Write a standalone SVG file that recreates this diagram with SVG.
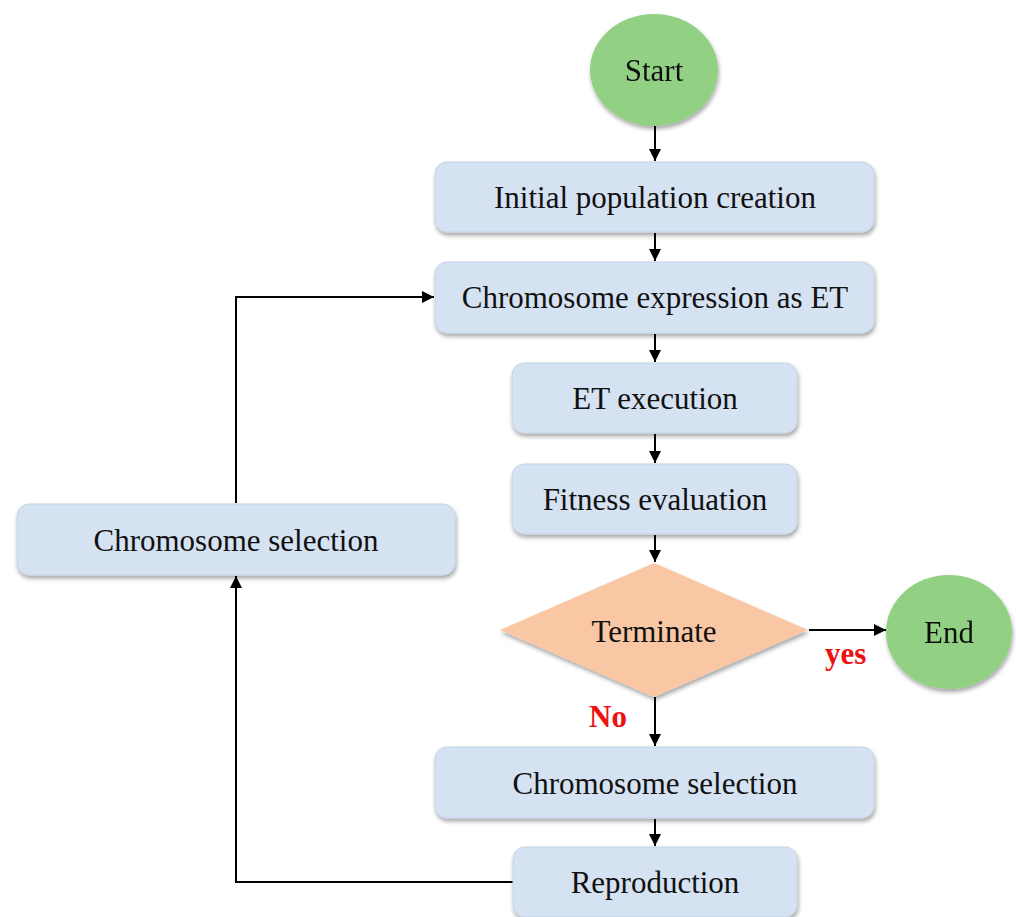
<svg xmlns="http://www.w3.org/2000/svg" width="1016" height="917" viewBox="0 0 1016 917">
<defs>
<style>
.box{fill:#d5e2f2;stroke:#c4d3e6;stroke-width:1}
.oval{fill:#92d083}
.dia{fill:#f9c7a3}
.t{font-family:"Liberation Serif","Times New Roman",serif;font-size:31px;fill:#111;text-anchor:middle;dominant-baseline:central}
.lab{font-family:"Liberation Serif","Times New Roman",serif;font-size:31px;font-weight:bold;fill:#ee1111}
.c{fill:none;stroke:#000;stroke-width:2}
</style>
<filter id="sh" x="-10%" y="-10%" width="120%" height="140%">
<feDropShadow dx="1" dy="3" stdDeviation="2" flood-color="#000" flood-opacity="0.35"/>
</filter>
<marker id="ah" viewBox="0 0 10 10" refX="10" refY="5" markerWidth="6" markerHeight="6" orient="auto" markerUnits="strokeWidth">
<path d="M0,0 L10,5 L0,10 z" fill="#000"/>
</marker>
</defs>
<rect width="1016" height="917" fill="#fff"/>
<g id="connectors">
<line class="c" x1="655" y1="126" x2="655" y2="161" marker-end="url(#ah)"/>
<line class="c" x1="655" y1="233" x2="655" y2="261" marker-end="url(#ah)"/>
<line class="c" x1="655" y1="334" x2="655" y2="362" marker-end="url(#ah)"/>
<line class="c" x1="655" y1="434" x2="655" y2="463" marker-end="url(#ah)"/>
<line class="c" x1="655" y1="535" x2="655" y2="562" marker-end="url(#ah)"/>
<line class="c" x1="809" y1="630" x2="886" y2="630" marker-end="url(#ah)"/>
<line class="c" x1="655" y1="697" x2="655" y2="746" marker-end="url(#ah)"/>
<line class="c" x1="655" y1="819" x2="655" y2="846" marker-end="url(#ah)"/>
<polyline class="c" points="513,882 236,882 236,576" marker-end="url(#ah)"/>
<polyline class="c" points="236,503 236,297 434,297" marker-end="url(#ah)"/>
</g>
<g id="start" filter="url(#sh)">
<ellipse class="oval" cx="654" cy="70" rx="64" ry="56"/>
<text class="t" x="654" y="70">Start</text>
</g>
<g id="init">
<rect class="box" filter="url(#sh)" x="435" y="162" width="439" height="70" rx="12"/>
<text class="t" x="655" y="197">Initial population creation</text>
</g>
<g id="express">
<rect class="box" filter="url(#sh)" x="435" y="262" width="439" height="71" rx="12"/>
<text class="t" x="655" y="297">Chromosome expression as ET</text>
</g>
<g id="exec">
<rect class="box" filter="url(#sh)" x="512" y="363" width="285" height="70" rx="12"/>
<text class="t" x="655" y="398">ET execution</text>
</g>
<g id="fitness">
<rect class="box" filter="url(#sh)" x="512" y="464" width="285" height="70" rx="12"/>
<text class="t" x="655" y="499">Fitness evaluation</text>
</g>
<g id="terminate">
<polygon class="dia" filter="url(#sh)" points="654,563 808,630 654,697 500,630"/>
<text class="t" x="654" y="631">Terminate</text>
</g>
<g id="end" filter="url(#sh)">
<ellipse class="oval" cx="949" cy="632" rx="63" ry="57"/>
<text class="t" x="949" y="632">End</text>
</g>
<g id="select2">
<rect class="box" filter="url(#sh)" x="435" y="747" width="439" height="71" rx="12"/>
<text class="t" x="655" y="783">Chromosome selection</text>
</g>
<g id="repro">
<rect class="box" filter="url(#sh)" x="513" y="847" width="284" height="70" rx="12"/>
<text class="t" x="655" y="882">Reproduction</text>
</g>
<g id="select1">
<rect class="box" filter="url(#sh)" x="17" y="504" width="438" height="71" rx="12"/>
<text class="t" x="236" y="540">Chromosome selection</text>
</g>
<g id="labels">
<text class="lab" x="825" y="664">yes</text>
<text class="lab" x="589" y="727">No</text>
</g>
</svg>
